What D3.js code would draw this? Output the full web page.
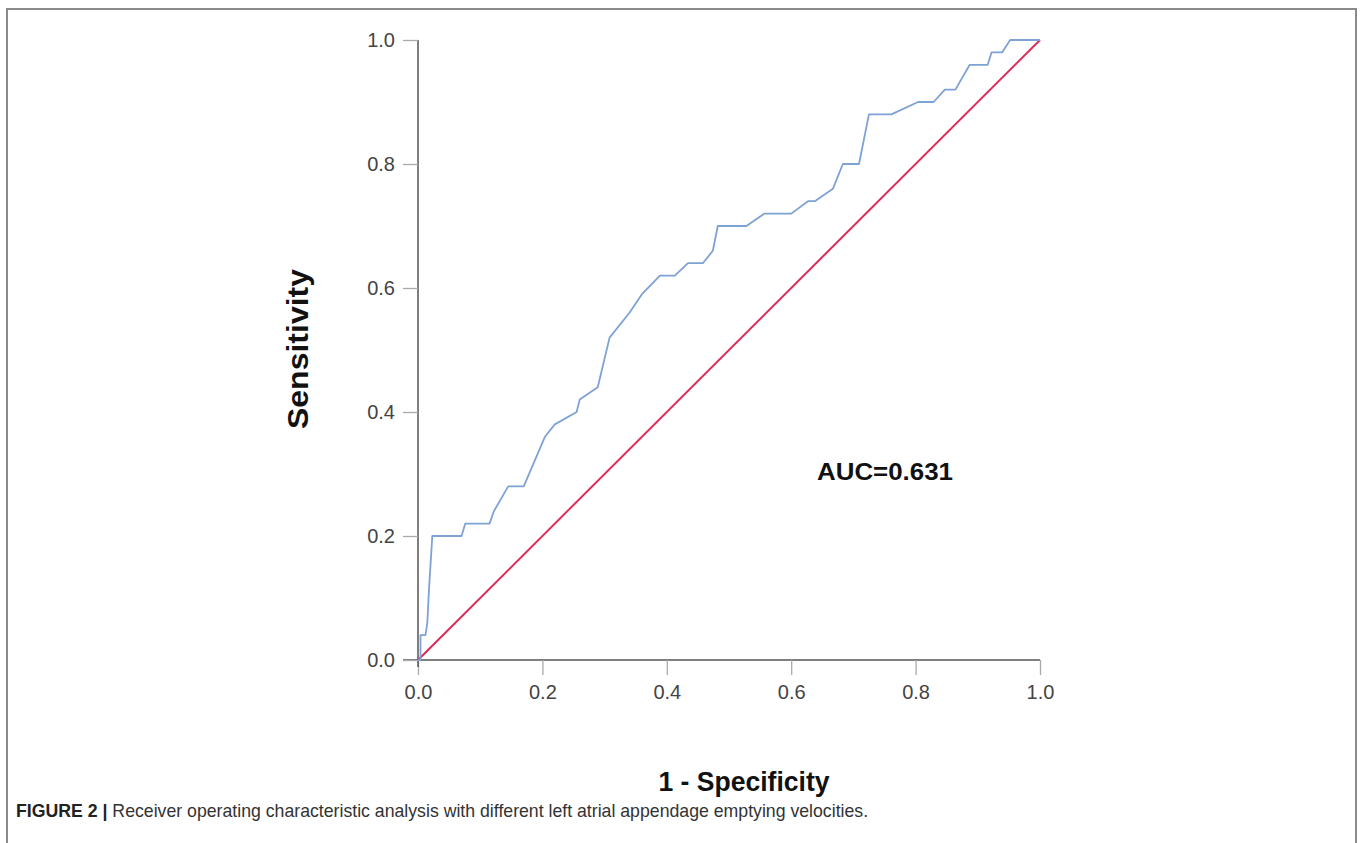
<!DOCTYPE html>
<html>
<head>
<meta charset="utf-8">
<script src="https://cdn.jsdelivr.net/npm/d3@7"></script>
<style>
  body { margin: 0; background: #fff; }
  svg { display: block; }
</style>
</head>
<body>
<div id="chart"></div>
<script>
// ROC curve points
const fpr = [0, 0.004, 0.004, 0.012, 0.015, 0.018, 0.023, 0.07, 0.076, 0.115, 0.122, 0.145, 0.17,
  0.204, 0.22, 0.255, 0.26, 0.289, 0.308, 0.34, 0.36, 0.389, 0.413, 0.434, 0.458, 0.474, 0.482,
  0.528, 0.557, 0.60, 0.627, 0.638, 0.667, 0.683, 0.709, 0.725, 0.761, 0.804, 0.829, 0.847,
  0.864, 0.887, 0.916, 0.922, 0.939, 0.952, 1];
const tpr = [0, 0, 0.04, 0.04, 0.06, 0.12, 0.20, 0.20, 0.22, 0.22, 0.24, 0.28, 0.28,
  0.36, 0.38, 0.40, 0.42, 0.44, 0.52, 0.56, 0.59, 0.62, 0.62, 0.64, 0.64, 0.66, 0.70,
  0.70, 0.72, 0.72, 0.74, 0.74, 0.76, 0.80, 0.80, 0.88, 0.88, 0.90, 0.90, 0.92,
  0.92, 0.96, 0.96, 0.98, 0.98, 1.0, 1.0];
const refLine = [[0, 0], [1, 1]];
const ticks = [0, 0.2, 0.4, 0.6, 0.8, 1.0];
const aucLabel = "AUC=0.631";
const xTitle = "1 - Specificity";
const yTitle = "Sensitivity";
const captionBold = "FIGURE 2 |";
const captionText = " Receiver operating characteristic analysis with different left atrial appendage emptying velocities.";

const width = 1365;
const height = 843;

const svg = d3.select("#chart")
    .append("svg")
    .attr("width", width)
    .attr("height", height);

// outer frame (bottom edge runs off the page)
svg.append("rect")
    .attr("x", 7).attr("y", 9)
    .attr("width", 1349).attr("height", 860)
    .attr("fill", "none")
    .attr("stroke", "#8a8a8a")
    .attr("stroke-width", 2);

const x = d3.scaleLinear().domain([0, 1]).range([418, 1040]);
const y = d3.scaleLinear().domain([0, 1]).range([660, 40]);

const font = "'Liberation Sans', Arial, sans-serif";

// axes
const xAxis = svg.append("g")
    .attr("transform", `translate(0, ${y(0)})`)
    .call(d3.axisBottom(x).tickValues(ticks).tickFormat(d3.format(".1f")).tickSize(15).tickPadding(8));
const yAxis = svg.append("g")
    .attr("transform", `translate(${x(0)}, 0)`)
    .call(d3.axisLeft(y).tickValues(ticks).tickFormat(d3.format(".1f")).tickSize(15).tickPadding(8));

[xAxis, yAxis].forEach(g => {
    g.select(".domain").attr("stroke", "#555").attr("stroke-width", 1.5);
    g.selectAll(".tick line").attr("stroke", "#aaa").attr("stroke-width", 1.3);
    g.selectAll(".tick text")
        .attr("fill", "#444")
        .style("font-family", font)
        .style("font-size", "20px");
});
xAxis.select(".domain").attr("d", `M${x(0) - 15},0H${x(1)}`);
yAxis.select(".domain").attr("d", `M0,${y(1)}V${y(0) + 7}`);
xAxis.selectAll(".tick text").attr("dy", "0.8em");

// diagonal reference line
svg.append("path")
    .datum(refLine)
    .attr("d", d3.line().x(d => x(d[0])).y(d => y(d[1])))
    .attr("fill", "none")
    .attr("stroke", "#de2c57")
    .attr("stroke-width", 2);

// ROC curve
const rocPts = fpr.map((f, i) => [f, tpr[i]]);
svg.append("path")
    .datum(rocPts)
    .attr("d", d3.line().x(d => x(d[0])).y(d => y(d[1])))
    .attr("fill", "none")
    .attr("stroke", "#7fa2d4")
    .attr("stroke-width", 1.8)
    .attr("stroke-linejoin", "round");

// AUC annotation
svg.append("text")
    .attr("x", 817).attr("y", 480)
    .attr("textLength", 136)
    .attr("lengthAdjust", "spacingAndGlyphs")
    .style("font-family", font)
    .style("font-size", "23px")
    .style("font-weight", "bold")
    .attr("fill", "#111")
    .text(aucLabel);

// axis titles
svg.append("text")
    .attr("x", 744).attr("y", 791)
    .attr("text-anchor", "middle")
    .attr("textLength", 171)
    .attr("lengthAdjust", "spacingAndGlyphs")
    .style("font-family", font)
    .style("font-size", "27px")
    .style("font-weight", "bold")
    .attr("fill", "#111")
    .text(xTitle);

svg.append("text")
    .attr("transform", `translate(308, 349) rotate(-90)`)
    .attr("text-anchor", "middle")
    .attr("textLength", 160)
    .attr("lengthAdjust", "spacingAndGlyphs")
    .style("font-family", font)
    .style("font-size", "29px")
    .style("font-weight", "bold")
    .attr("fill", "#111")
    .text(yTitle);

// caption
const cap = svg.append("text")
    .attr("x", 16).attr("y", 817)
    .style("font-family", font)
    .style("font-size", "17.7px")
    .attr("fill", "#333");
cap.append("tspan").style("font-weight", "bold").attr("fill", "#222").text(captionBold);
cap.append("tspan").text(captionText);
</script>
</body>
</html>
